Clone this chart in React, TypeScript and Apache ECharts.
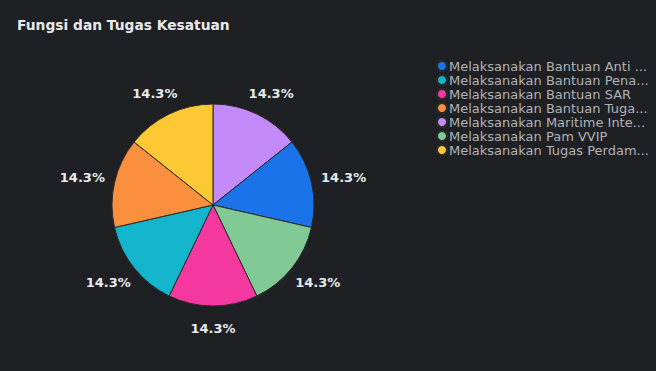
import React, { useEffect, useRef } from "react";
import * as echarts from "echarts";

const title = "Fungsi dan Tugas Kesatuan";

// legend order
const legendNames = [
  "Melaksanakan Bantuan Anti Teror",
  "Melaksanakan Bantuan Penanggulangan Bencana",
  "Melaksanakan Bantuan SAR",
  "Melaksanakan Bantuan Tugas Polri",
  "Melaksanakan Maritime Interdiction Operation",
  "Melaksanakan Pam VVIP",
  "Melaksanakan Tugas Perdamaian Dunia",
];
const legendColors = ["#1a73e8", "#12b5cb", "#f538a0", "#fa903e", "#c58af9", "#81c995", "#fcc934"];

// pie order (clockwise from 12 o'clock)
const sliceNames = [
  "Melaksanakan Maritime Interdiction Operation",
  "Melaksanakan Bantuan Anti Teror",
  "Melaksanakan Pam VVIP",
  "Melaksanakan Bantuan SAR",
  "Melaksanakan Bantuan Penanggulangan Bencana",
  "Melaksanakan Bantuan Tugas Polri",
  "Melaksanakan Tugas Perdamaian Dunia",
];
const sliceValues = [1, 1, 1, 1, 1, 1, 1];

export default function App() {
  const ref = useRef<HTMLDivElement>(null);
  useEffect(() => {
    if (!ref.current) return;
    const chart = echarts.init(ref.current, undefined, { renderer: "svg" });
    const colorOf = (n: string) => legendColors[legendNames.indexOf(n)];
    const data = sliceNames.map((n, i) => ({ name: n, value: sliceValues[i], itemStyle: { color: colorOf(n) } }));
    const total = sliceValues.reduce((a, b) => a + b, 0);
    const cx = 213;
    const cy = 205;
    chart.setOption({
      animation: false,
      backgroundColor: "#1f2023",
      title: {
        text: title,
        left: 12,
        top: 13,
        textStyle: { color: "#e8eaed", fontSize: 13.8, fontWeight: "bold", fontFamily: "DejaVu Sans" },
      },
      legend: {
        data: legendNames,
        orient: "vertical",
        left: 431,
        top: 54,
        icon: "circle",
        itemWidth: 10,
        itemHeight: 10,
        itemGap: 0,
        textStyle: {
          color: "#b0b3b8",
          fontSize: 13,
          lineHeight: 14,
          fontFamily: "DejaVu Sans",
          width: 202,
          overflow: "truncate",
          ellipsis: "...",
          padding: [0, 0, 0, -3],
        },
      },
      series: [
        {
          type: "pie",
          center: [cx, cy],
          radius: 101,
          startAngle: 90,
          clockwise: true,
          data,
          label: { show: false },
          labelLine: { show: false },
          itemStyle: { borderColor: "#2a2a2a", borderWidth: 1 },
          emphasis: { disabled: true },
        },
        {
          type: "pie",
          center: [cx, cy],
          radius: [112, 136],
          startAngle: 90,
          clockwise: true,
          silent: true,
          data: sliceNames.map((n, i) => ({ name: n, value: sliceValues[i], itemStyle: { color: "rgba(0,0,0,0)" } })),
          itemStyle: { color: "rgba(0,0,0,0)", borderWidth: 0 },
          label: {
            show: true,
            position: "inside",
            color: "#e8eaed",
            fontSize: 13,
            fontFamily: "DejaVu Sans",
            fontWeight: "bold",
            formatter: (p: any) => ((p.value / total) * 100).toFixed(1) + "%",
          },
          labelLayout: (p: any) => {
            const r = p.labelRect;
            const lx = r.x + r.width / 2;
            const ly = r.y + r.height / 2;
            return {
              x: cx + (lx - cx) * 1.055,
              y: cy + (ly - cy) * 0.975,
              align: "center",
              verticalAlign: "middle",
            };
          },
          labelLine: { show: false },
          emphasis: { disabled: true },
        },
      ],
    });
    return () => chart.dispose();
  }, []);
  return <div ref={ref} style={{ position: "absolute", left: 0, top: 0, width: 656, height: 371 }} />;
}
